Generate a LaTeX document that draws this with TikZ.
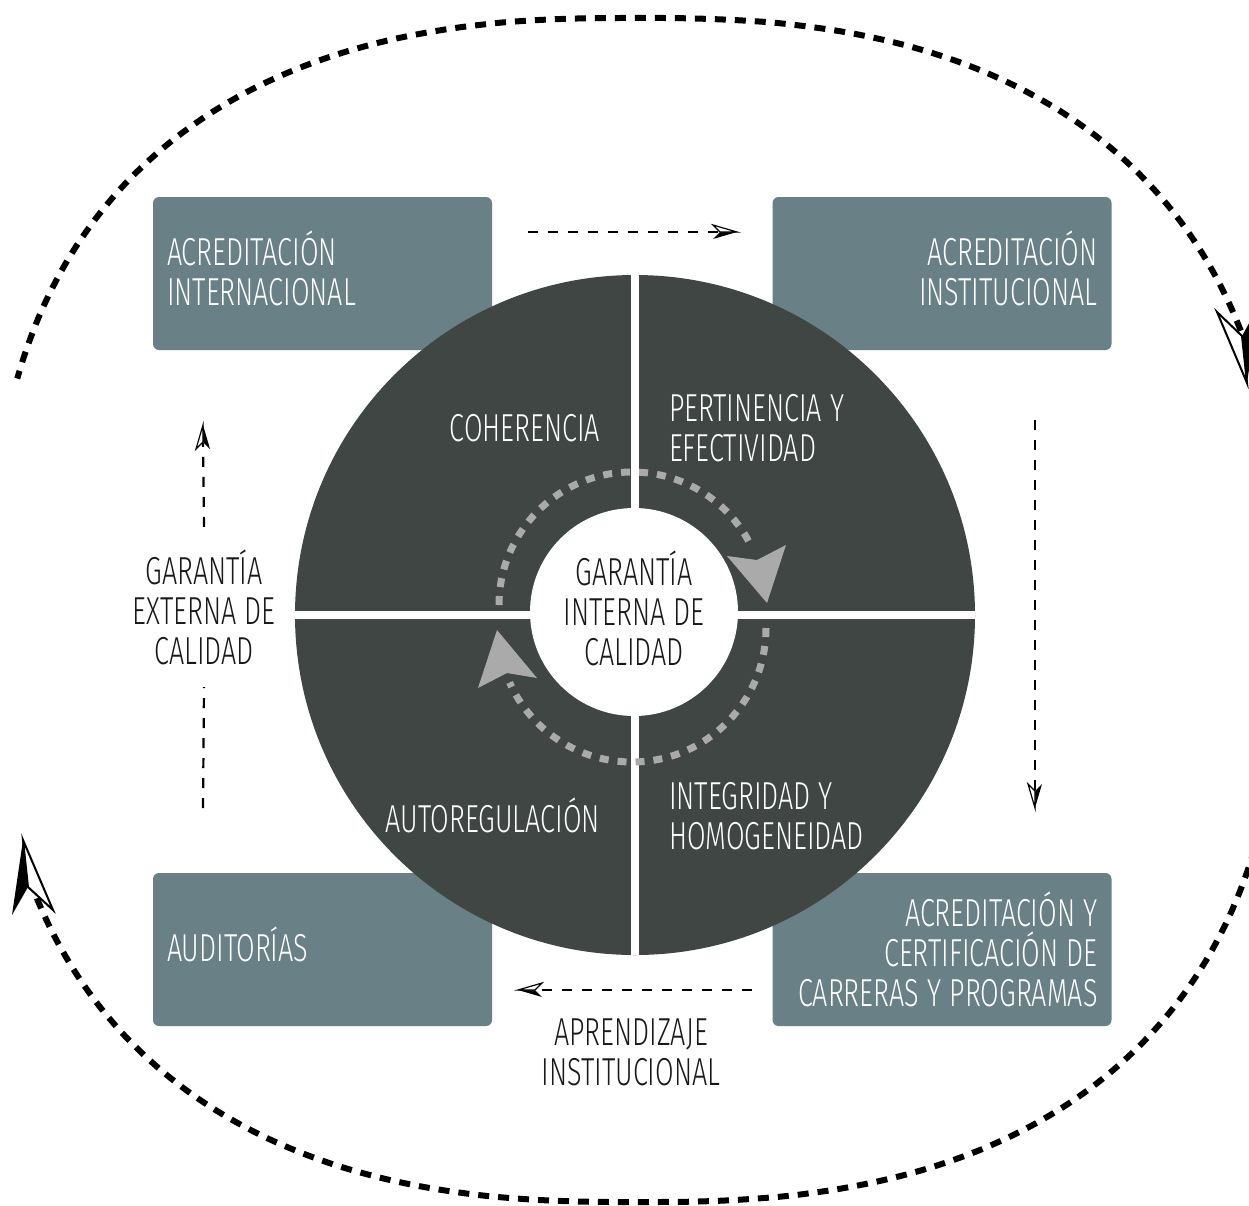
\documentclass[tikz,border=0pt]{standalone}
\usepackage{fontspec}
\IfFontExistsTF{Fira Sans Light}{\newfontfamily\cf[FakeStretch=0.69,WordSpace=1.1]{Fira Sans Light}}{\newfontfamily\cf[FakeStretch=0.69,WordSpace=1.1]{Fira Sans}}
\usetikzlibrary{arrows.meta,calc}
\definecolor{boxcol}{RGB}{104,128,134}
\definecolor{darkcol}{RGB}{63,70,68}
\definecolor{greycol}{RGB}{170,170,170}
\definecolor{inkcol}{RGB}{25,25,25}
\newcommand\halfhead[3]{%
  \begin{scope}[shift={(#1)}, rotate=#2]
    \fill[black] (0,0) -- (-24,#3*7) -- (-17,0) -- cycle;
    \filldraw[fill=white, draw=black, line width=1.2pt] (0,0) -- (-24,-#3*7) -- (-17,0) -- cycle;
  \end{scope}}
\begin{document}
\begin{tikzpicture}[x=1pt,y=-1pt,
  lbl/.style={font=\cf\fontsize{39}{40}\selectfont, inner sep=0pt,
    execute at begin node={\vphantom{Í}}},
  one/.style={yshift=4pt},
  box/.style={rounded corners=6pt, fill=boxcol, inner sep=0pt,
    minimum width=339pt, minimum height=153pt},
  bigdash/.style={line width=6pt, dash pattern=on 11pt off 9pt, black},
  greydash/.style={line width=7pt, dash pattern=on 9pt off 9pt, greycol},
  smalldash/.style={line width=2.2pt, dash pattern=on 10pt off 10pt, black}]
\useasboundingbox (0,0) rectangle (1249,1205);

% outer dashed loop
\draw[bigdash] plot[domain=23:162, samples=90, smooth, variable=\t]
  ({637+645*sign(cos(\t))*(abs(cos(\t))+0.0001)^0.8}, {610-592*(abs(sin(\t))+0.0001)^0.8});
\draw[bigdash] plot[domain=204:342, samples=90, smooth, variable=\t]
  ({637+645*sign(cos(\t))*(abs(cos(\t))+0.0001)^0.8}, {610+592*(abs(sin(\t))+0.0001)^0.8});
\fill (23,840) -- (12,915) -- (28,887) -- cycle;
\filldraw[fill=white, line width=2pt] (23,840) -- (28,887) -- (53,910) -- cycle;
\fill (1247,383) -- (1258,307) -- (1242,336) -- cycle;
\filldraw[fill=white, line width=2pt] (1247,383) -- (1242,336) -- (1217,312) -- cycle;

% boxes
\node[box] (tl) at (322.5,273.5) {};
\node[box] (tr) at (942,273.5) {};
\node[box] (bl) at (322.5,949.5) {};
\node[box] (br) at (942,949.5) {};
\node[lbl, text=white, anchor=west, align=left] (tlt) at ($(tl.west)+(14,-5)$) {ACREDITACIÓN\\INTERNACIONAL};
\node[lbl, text=white, anchor=east, align=right] (trt) at ($(tr.east)+(-14,-5)$) {ACREDITACIÓN\\INSTITUCIONAL};
\node[lbl, one, text=white, anchor=west] (blt) at ($(bl.west)+(14,-1.5)$) {AUDITORÍAS};
\node[lbl, text=white, anchor=east, align=right] (brt) at ($(br.east)+(-14,-0.5)$) {ACREDITACIÓN Y\\CERTIFICACIÓN DE\\CARRERAS Y PROGRAMAS};

% disc
\node[circle, fill=darkcol, minimum size=680pt, inner sep=0pt] (disc) at (635,615) {};
\draw[white, line width=8pt] (disc.north) -- (disc.south);
\draw[white, line width=8pt] (disc.west) -- (disc.east);
\node[circle, fill=white, minimum size=208pt, inner sep=0pt] (core) at (634,612) {};
\node[lbl, text=inkcol, align=center] (coretxt) at ($(core.center)+(0,-4)$) {GARANTÍA\\INTERNA DE\\CALIDAD};

% grey circular arrows
\draw[greydash] (632,605) ++(180:133) arc[start angle=180, end angle=334, radius=133];
\draw[greydash] (632,628) ++(0:134) arc[start angle=0, end angle=156, radius=134];
\fill[greycol] (767,603) -- (727,556) -- (757,560) -- (786,545) -- cycle;
\fill[greycol] (497,630) -- (537,678) -- (507,673) -- (478,688) -- cycle;

% quadrant labels
\node[lbl, one, text=white, anchor=east] (coh) at (600,428) {COHERENCIA};
\node[lbl, text=white, anchor=west, align=left] (pert) at (669,428) {PERTINENCIA Y\\EFECTIVIDAD};
\node[lbl, one, text=white, anchor=east] (auto) at (600,819) {AUTOREGULACIÓN};
\node[lbl, text=white, anchor=west, align=left] (integ) at (669,816) {INTEGRIDAD Y\\HOMOGENEIDAD};

% external labels and small arrows
\node[lbl, text=inkcol, align=center, minimum height=160pt] (ext) at (204,607) {GARANTÍA\\EXTERNA DE\\CALIDAD};
\node[lbl, text=inkcol, align=center] (apr) at (631,1052) {APRENDIZAJE\\INSTITUCIONAL};

\coordinate (a1s) at (528,232); \coordinate (a1e) at (737,232);
\coordinate (a2s) at (1035,420); \coordinate (a2e) at (1035,808);
\coordinate (a3s) at (752,990); \coordinate (a3e) at (518,990);
\coordinate (a4s) at (203,808); \coordinate (a4e) at (203,425);
\draw[smalldash] (a1s) -- ($(a1e)+(-18,0)$);
\halfhead{a1e}{0}{1}
\draw[smalldash] (a2s) -- ($(a2e)+(0,-18)$);
\halfhead{a2e}{-90}{-1}
\draw[smalldash] (a3s) -- ($(a3e)+(18,0)$);
\halfhead{a3e}{180}{-1}
\draw[smalldash] (a4s) -- (ext.south);
\draw[smalldash] (ext.north) -- ($(a4e)+(0,18)$);
\halfhead{a4e}{90}{1}
\end{tikzpicture}
\end{document}
